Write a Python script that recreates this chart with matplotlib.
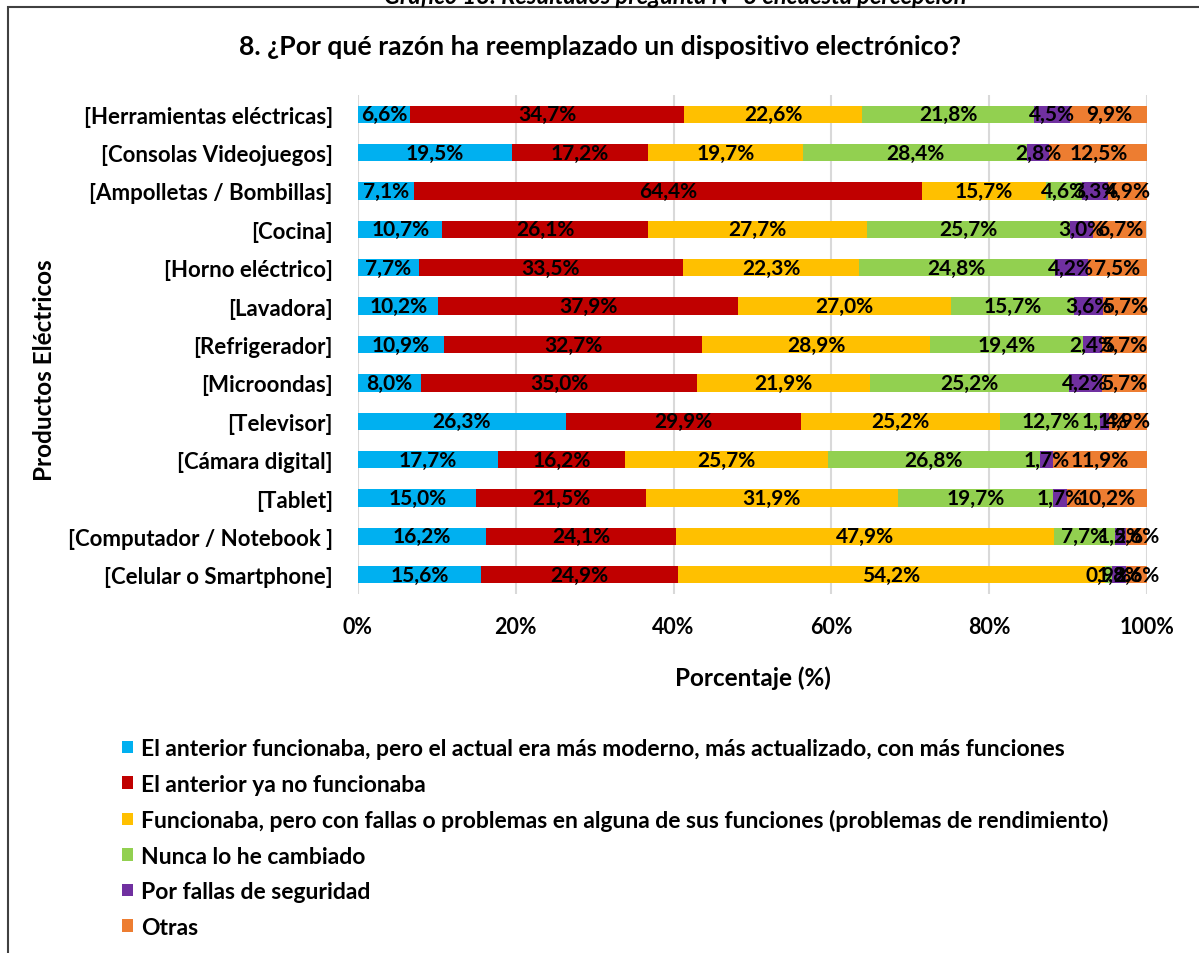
import matplotlib.pyplot as plt
from matplotlib.patches import Rectangle
import numpy as np

plt.rcParams['font.family'] = ['Lato', 'DejaVu Sans']
plt.rcParams['font.weight'] = 'bold'

categories = ['[Herramientas eléctricas]', '[Consolas Videojuegos]', '[Ampolletas / Bombillas]',
              '[Cocina]', '[Horno eléctrico]', '[Lavadora]', '[Refrigerador]', '[Microondas]',
              '[Televisor]', '[Cámara digital]', '[Tablet]', '[Computador / Notebook ]',
              '[Celular o Smartphone]']

moderno    = [6.6, 19.5, 7.1, 10.7, 7.7, 10.2, 10.9, 8.0, 26.3, 17.7, 15.0, 16.2, 15.6]
no_func    = [34.7, 17.2, 64.4, 26.1, 33.5, 37.9, 32.7, 35.0, 29.9, 16.2, 21.5, 24.1, 24.9]
fallas     = [22.6, 19.7, 15.7, 27.7, 22.3, 27.0, 28.9, 21.9, 25.2, 25.7, 31.9, 47.9, 54.2]
nunca      = [21.8, 28.4, 4.6, 25.7, 24.8, 15.7, 19.4, 25.2, 12.7, 26.8, 19.7, 7.7, 0.9]
seguridad  = [4.5, 2.8, 3.3, 3.0, 4.2, 3.6, 2.4, 4.2, 1.1, 1.7, 1.7, 1.5, 1.8]
otras      = [9.9, 12.5, 4.9, 6.7, 7.5, 5.7, 5.7, 5.7, 4.9, 11.9, 10.2, 2.6, 2.6]

series = [moderno, no_func, fallas, nunca, seguridad, otras]
names = ['El anterior funcionaba, pero el actual era más moderno, más actualizado, con más funciones',
         'El anterior ya no funcionaba',
         'Funcionaba, pero con fallas o problemas en alguna de sus funciones (problemas de rendimiento)',
         'Nunca lo he cambiado',
         'Por fallas de seguridad',
         'Otras']
colors = ['#00B0F0', '#C00000', '#FFC000', '#92D050', '#7030A0', '#ED7D31']

W, H = 1199, 954
fig = plt.figure(figsize=(W / 100, H / 100), dpi=100)
ax = fig.add_axes([358 / W, 1 - 595 / H, (1147 - 358) / W, (595 - 96) / H])

y = np.arange(len(categories))
left = np.zeros(len(categories))
for vals, name, c in zip(series, names, colors):
    vals = np.array(vals)
    ax.barh(y, vals, left=left, height=0.45, color=c, label=name, zorder=2)
    for yi, l, v in zip(y, left, vals):
        ax.text(l + v / 2, yi, f'{v:.1f}%'.replace('.', ','), ha='center', va='center',
                fontsize=15, fontweight='bold', color='black', zorder=3)
    left += vals

ax.set_xlim(0, 100)
ax.set_ylim(12.5, -0.5)
ax.set_xticks(np.arange(0, 101, 20))
ax.set_xticklabels([f'{t}%' for t in range(0, 101, 20)], fontsize=15.5, fontweight='bold')
ax.set_yticks(y)
ax.set_yticklabels(categories, fontsize=16, fontweight='bold')
ax.tick_params(length=0)
ax.tick_params(axis='y', pad=18)
ax.tick_params(axis='x', pad=16)
ax.xaxis.grid(True, color='#D9D9D9', linewidth=1.5, zorder=0)
for s in ax.spines.values():
    s.set_visible(False)

ax.set_xlabel('Porcentaje (%)', fontsize=17.5, fontweight='bold', labelpad=20)
fig.text(45 / W, 1 - 370 / H, 'Productos Eléctricos', rotation=90, ha='center', va='center',
         fontsize=17.5, fontweight='bold')

fig.text(600 / W, 1 - 47 / H, '8. ¿Por qué razón ha reemplazado un dispositivo electrónico?',
         ha='center', va='center', fontsize=19.2, fontweight='bold')
fig.text(675 / W, 1 + 3 / H, 'Gráfico 18: Resultados pregunta N° 8 encuesta percepción',
         ha='center', va='center', fontsize=17, fontweight='bold', style='italic')

fig.patches.append(Rectangle((8 / W, -0.01), 1.1, 1 - 8 / H + 0.01, transform=fig.transFigure,
                             fill=False, edgecolor='#404040', linewidth=1.5))

handles, labels = ax.get_legend_handles_labels()
fig.legend(handles, labels, loc='upper left', bbox_to_anchor=(104 / W, 1 - 721 / H),
           frameon=False, fontsize=16.5, handlelength=0.45, handleheight=0.45,
           handletextpad=0.35, labelspacing=0.63, borderpad=0.3)

fig.savefig('out.png', dpi=100)
